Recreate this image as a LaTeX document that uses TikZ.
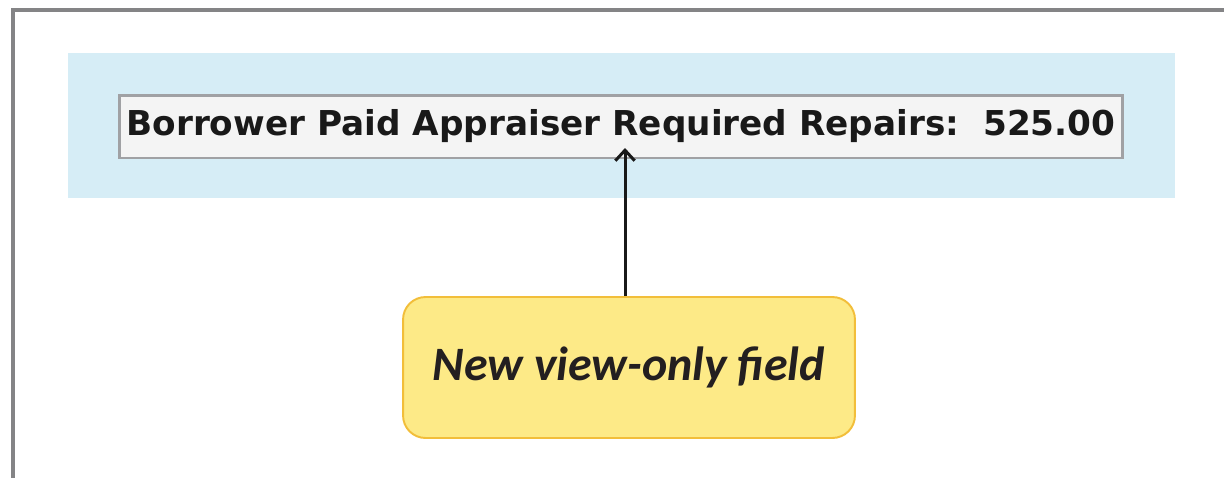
\documentclass[tikz,border=0pt]{standalone}
\usepackage{fontspec}
\setmainfont{Carlito}
\newfontfamily\fieldfont{DejaVu Sans}
\usetikzlibrary{positioning,arrows.meta}
\definecolor{framegray}{RGB}{132,132,134}
\definecolor{panelblue}{RGB}{214,237,246}
\definecolor{fieldgray}{RGB}{160,161,164}
\definecolor{fieldbg}{RGB}{244,244,244}
\definecolor{noteyellow}{RGB}{253,234,135}
\definecolor{noteedge}{RGB}{242,190,58}
\definecolor{notetext}{RGB}{35,31,32}

\tikzset{
  field/.style={draw=fieldgray,line width=1.7pt,fill=fieldbg,inner sep=0pt,
    minimum width=20.08cm,minimum height=1.26cm,text=black!90,
    font=\fieldfont\bfseries\fontsize{19.5}{22}\selectfont},
  note/.style={draw=noteedge,line width=1.1pt,fill=noteyellow,rounded corners=0.45cm,
    minimum width=9.04cm,minimum height=2.82cm,text=notetext,
    font=\bfseries\itshape\fontsize{27.3}{30}\selectfont},
  pointer/.style={draw=black!90,line width=1.7pt,
    -{Straight Barb[length=6pt,width=11pt,line width=1.7pt]}}
}

\begin{document}
\begin{tikzpicture}[x=0.02cm,y=-0.02cm]
  \useasboundingbox (0,0) rectangle (1224,477);

  % page frame
  \draw[framegray,line width=2.3pt] (13,480) -- (13,10) -- (1226,10);

  % screen panel
  \fill[panelblue] (68,53) rectangle (1175,198);

  \node[field] (repairs) at (621,126.5) {Borrower Paid Appraiser Required Repairs:\ \ 525.00};

  \node[note] (callout) at (629,367.5) {New view-only field};

  \coordinate (tip) at (625,148);
  \draw[pointer] (callout.north -| tip) -- (tip);
\end{tikzpicture}
\end{document}
